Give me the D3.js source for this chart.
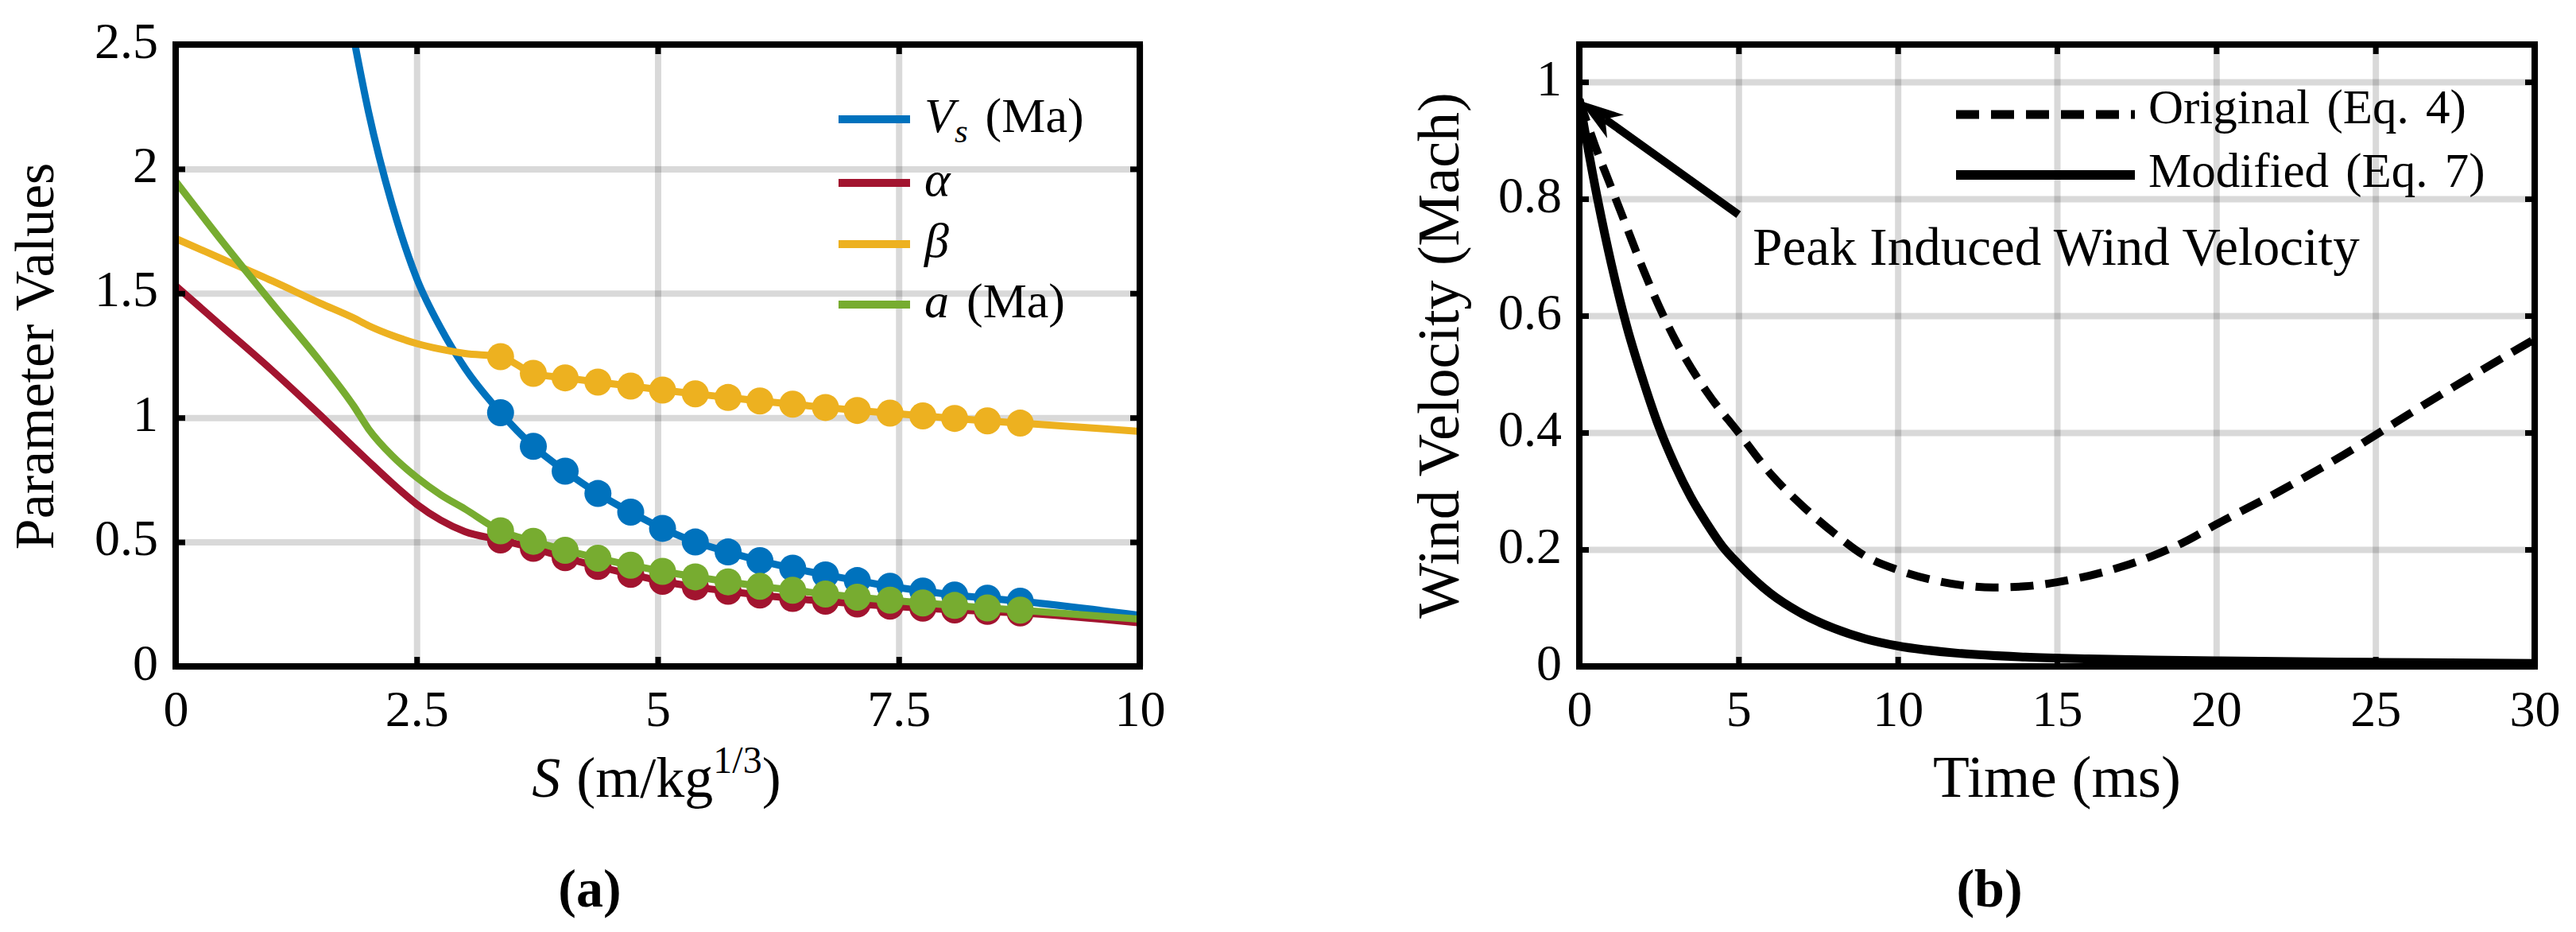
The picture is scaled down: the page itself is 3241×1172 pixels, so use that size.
<!DOCTYPE html>
<html>
<head>
<meta charset="utf-8">
<script src="https://cdn.jsdelivr.net/npm/d3@7"></script>
<style>
body { margin: 0; background: #fff; }
svg text { font-family: "Liberation Serif", "DejaVu Serif", serif; fill: #000; }
</style>
</head>
<body>
<svg id="svg" width="3241" height="1172"></svg>
<script>
// ---- (a) parameter values vs scaled distance S ----
const sHead = [0, 0.5, 1, 1.5, 1.85, 2, 2.25, 2.5, 2.75, 3];
const sMarkers = [3.37, 3.71, 4.04, 4.38, 4.72, 5.05, 5.39, 5.73, 6.06, 6.40, 6.74, 7.07, 7.41, 7.75, 8.08, 8.42, 8.76];
const sTail = [10];

const vsHead = [null, null, null, null, 2.52, 2.23, 1.85, 1.56, 1.36, 1.20];
const vsMarkers = [1.02, 0.885, 0.785, 0.695, 0.62, 0.555, 0.50, 0.46, 0.425, 0.395, 0.368, 0.345, 0.322, 0.303, 0.287, 0.274, 0.262];
const vsTail = [0.205];

const alphaHead = [1.53, 1.36, 1.19, 1.01, 0.88, 0.825, 0.735, 0.652, 0.588, 0.542];
const alphaMarkers = [0.508, 0.475, 0.437, 0.402, 0.37, 0.342, 0.32, 0.302, 0.287, 0.273, 0.262, 0.251, 0.242, 0.234, 0.227, 0.221, 0.215];
const alphaTail = [0.175];

const betaHead = [1.72, 1.635, 1.55, 1.46, 1.40, 1.37, 1.33, 1.298, 1.275, 1.258];
const betaMarkers = [1.245, 1.178, 1.160, 1.143, 1.127, 1.111, 1.096, 1.081, 1.067, 1.054, 1.041, 1.029, 1.018, 1.007, 0.997, 0.987, 0.978];
const betaTail = [0.945];

const aHead = [1.95, 1.70, 1.46, 1.225, 1.045, 0.955, 0.845, 0.76, 0.69, 0.633];
const aMarkers = [0.545, 0.503, 0.467, 0.435, 0.407, 0.382, 0.36, 0.34, 0.322, 0.306, 0.291, 0.278, 0.266, 0.255, 0.245, 0.235, 0.226];
const aTail = [0.19];

const colorsA = ["#0072BD", "#A2142F", "#EDB120", "#77AC30"];
const xTicksA = [0, 2.5, 5, 7.5, 10];
const xLabelsA = ["0", "2.5", "5", "7.5", "10"];
const yTicksA = [0, 0.5, 1, 1.5, 2, 2.5];
const yLabelsA = ["0", "0.5", "1", "1.5", "2", "2.5"];

// ---- (b) wind velocity vs time ----
const tOrig = [0, 0.5, 1, 1.5, 2, 3, 4, 5, 6, 7, 8, 9, 10, 11, 12, 13, 14, 15, 16, 17, 18, 19, 20, 22, 24, 26, 28, 30];
const vOrig = [0.97, 0.89, 0.82, 0.75, 0.68, 0.56, 0.47, 0.40, 0.33, 0.275, 0.228, 0.188, 0.165, 0.149, 0.139, 0.135, 0.137, 0.144, 0.155, 0.170, 0.189, 0.213, 0.243, 0.30, 0.362, 0.43, 0.496, 0.56];
const tMod = [0, 0.5, 1, 1.5, 2, 2.5, 3, 3.5, 4, 4.5, 5, 6, 7, 8, 9, 10, 12, 14, 16, 18, 20, 25, 30];
const vMod = [0.97, 0.82, 0.69, 0.58, 0.49, 0.41, 0.345, 0.29, 0.245, 0.205, 0.175, 0.125, 0.09, 0.065, 0.047, 0.035, 0.022, 0.016, 0.013, 0.011, 0.0095, 0.007, 0.005];
const xTicksB = [0, 5, 10, 15, 20, 25, 30];
const xLabelsB = ["0", "5", "10", "15", "20", "25", "30"];
const yTicksB = [0, 0.2, 0.4, 0.6, 0.8, 1];
const yLabelsB = ["0", "0.2", "0.4", "0.6", "0.8", "1"];
const arrowFrom = [5.0, 0.773], arrowTo = [0, 0.968];
const annotAt = [5.45, 0.687];

const svg = d3.select("#svg");
const FONT = '"Liberation Serif", "DejaVu Serif", serif';

// light grid behind the data
function frame(g, x, y, xTicks, yTicks) {
    const [xl, xr] = x.range(), [yb, yt] = y.range();
    const h = yb - yt, w = xr - xl;

    g.append("g").attr("transform", `translate(0,${yb})`)
        .call(d3.axisBottom(x).tickValues(xTicks).tickSize(-h).tickFormat(""))
        .call(a => a.select(".domain").remove())
        .selectAll("line").attr("stroke", "#000").attr("stroke-opacity", 0.15).attr("stroke-width", 8);
    g.append("g").attr("transform", `translate(${xl},0)`)
        .call(d3.axisLeft(y).tickValues(yTicks).tickSize(-w).tickFormat(""))
        .call(a => a.select(".domain").remove())
        .selectAll("line").attr("stroke", "#000").attr("stroke-opacity", 0.15).attr("stroke-width", 8);
}

// inward ticks on all four sides, tick labels and the box
function box(g, x, y, xTicks, xLabels, yTicks, yLabels) {
    const [xl, xr] = x.range(), [yb, yt] = y.range();
    const style = a => {
        a.select(".domain").remove();
        a.attr("font-size", 64).attr("font-family", FONT);
        a.selectAll("line").attr("stroke", "#000").attr("stroke-width", 7);
        a.selectAll("text").attr("fill", "#000");
    };
    g.append("g").attr("transform", `translate(0,${yb})`)
        .call(d3.axisBottom(x).tickValues(xTicks).tickFormat((d, i) => xLabels[i]).tickSizeInner(-12).tickSizeOuter(0).tickPadding(30))
        .call(style);
    g.append("g").attr("transform", `translate(0,${yt})`)
        .call(d3.axisTop(x).tickValues(xTicks).tickFormat("").tickSizeInner(-12).tickSizeOuter(0))
        .call(style);
    g.append("g").attr("transform", `translate(${xl},0)`)
        .call(d3.axisLeft(y).tickValues(yTicks).tickFormat((d, i) => yLabels[i]).tickSizeInner(-12).tickSizeOuter(0).tickPadding(22))
        .call(style)
        .selectAll("text").attr("dy", "0.25em");
    g.append("g").attr("transform", `translate(${xr},0)`)
        .call(d3.axisRight(y).tickValues(yTicks).tickFormat("").tickSizeInner(-12).tickSizeOuter(0))
        .call(style);
    g.append("rect")
        .attr("x", xl).attr("y", yt).attr("width", xr - xl).attr("height", yb - yt)
        .attr("fill", "none").attr("stroke", "#000").attr("stroke-width", 8);
}

function clip(id, x, y) {
    svg.append("clipPath").attr("id", id).append("rect")
        .attr("x", x.range()[0]).attr("y", y.range()[1])
        .attr("width", x.range()[1] - x.range()[0]).attr("height", y.range()[0] - y.range()[1]);
}

// ================= panel (a) =================
const xA = d3.scaleLinear().domain([0, 10]).range([221, 1434]);
const yA = d3.scaleLinear().domain([0, 2.5]).range([838, 56]);
const gA = svg.append("g");
frame(gA, xA, yA, xTicksA, yTicksA);
clip("clipA", xA, yA);

const seriesA = [
    { head: vsHead, pts: vsMarkers, tail: vsTail },
    { head: alphaHead, pts: alphaMarkers, tail: alphaTail },
    { head: betaHead, pts: betaMarkers, tail: betaTail },
    { head: aHead, pts: aMarkers, tail: aTail }
];
const sCurve = sHead.concat(sMarkers, sTail);
const lineA = d3.line()
    .defined(d => d[1] != null)
    .x(d => xA(d[0])).y(d => yA(d[1]))
    .curve(d3.curveMonotoneX);

const plotA = gA.append("g").attr("clip-path", "url(#clipA)");
seriesA.forEach((s, k) => {
    const vals = s.head.concat(s.pts, s.tail);
    plotA.append("path")
        .datum(sCurve.map((v, i) => [v, vals[i]]))
        .attr("fill", "none")
        .attr("stroke", colorsA[k])
        .attr("stroke-width", 9)
        .attr("d", lineA);
    plotA.append("g").selectAll("circle")
        .data(sMarkers.map((v, i) => [v, s.pts[i]]))
        .join("circle")
        .attr("cx", d => xA(d[0]))
        .attr("cy", d => yA(d[1]))
        .attr("r", 17)
        .attr("fill", colorsA[k]);
});
box(gA, xA, yA, xTicksA, xLabelsA, yTicksA, yLabelsA);

// legend (a)
const legRowsA = [150, 230, 307, 383];
const legA = gA.append("g").attr("font-size", 62);
legRowsA.forEach((ry, k) => {
    legA.append("line").attr("x1", 1055).attr("x2", 1145).attr("y1", ry).attr("y2", ry)
        .attr("stroke", colorsA[k]).attr("stroke-width", 10);
});
let t = legA.append("text").attr("x", 1163).attr("y", legRowsA[0] + 16);
t.append("tspan").attr("font-style", "italic").text("V");
t.append("tspan").attr("font-style", "italic").attr("font-size", 43).attr("dy", 13).text("s");
t.append("tspan").attr("dy", -13).attr("dx", 22).text("(Ma)");
legA.append("text").attr("x", 1163).attr("y", legRowsA[1] + 16).attr("font-style", "italic").text("α");
legA.append("text").attr("x", 1163).attr("y", legRowsA[2] + 16).attr("font-style", "italic").text("β");
t = legA.append("text").attr("x", 1163).attr("y", legRowsA[3] + 16);
t.append("tspan").attr("font-style", "italic").text("a");
t.append("tspan").attr("dx", 22).text("(Ma)");

// axis labels (a)
t = svg.append("text").attr("x", 826).attr("y", 1002).attr("text-anchor", "middle").attr("font-size", 72);
t.append("tspan").attr("font-style", "italic").text("S");
t.append("tspan").attr("dx", 20).text("(m/kg");
t.append("tspan").attr("font-size", 48).attr("dy", -30).text("1/3");
t.append("tspan").attr("dy", 30).text(")");
svg.append("text")
    .attr("transform", "translate(67,448) rotate(-90)")
    .attr("text-anchor", "middle").attr("font-size", 70)
    .text("Parameter Values");
svg.append("text").attr("x", 742).attr("y", 1140).attr("text-anchor", "middle")
    .attr("font-size", 68).attr("font-weight", "bold").text("(a)");

// ================= panel (b) =================
const xB = d3.scaleLinear().domain([0, 30]).range([1987, 3189]);
const yB = d3.scaleLinear().domain([0, 1.064]).range([838, 56]);
const gB = svg.append("g");
frame(gB, xB, yB, xTicksB, yTicksB);
clip("clipB", xB, yB);

const lineB = d3.line().x(d => xB(d[0])).y(d => yB(d[1])).curve(d3.curveMonotoneX);
const plotB = gB.append("g").attr("clip-path", "url(#clipB)");
plotB.append("path")
    .datum(tOrig.map((v, i) => [v, vOrig[i]]))
    .attr("fill", "none").attr("stroke", "#000").attr("stroke-width", 10)
    .attr("stroke-dasharray", "29,15")
    .attr("d", lineB);
plotB.append("path")
    .datum(tMod.map((v, i) => [v, vMod[i]]))
    .attr("fill", "none").attr("stroke", "#000").attr("stroke-width", 11)
    .attr("d", lineB);
box(gB, xB, yB, xTicksB, xLabelsB, yTicksB, yLabelsB);

// legend (b)
const legB = gB.append("g").attr("font-size", 61).attr("word-spacing", 6);
legB.append("line").attr("x1", 2461).attr("x2", 2686).attr("y1", 144).attr("y2", 144)
    .attr("stroke", "#000").attr("stroke-width", 11).attr("stroke-dasharray", "29,15");
legB.append("line").attr("x1", 2461).attr("x2", 2686).attr("y1", 220).attr("y2", 220)
    .attr("stroke", "#000").attr("stroke-width", 12);
legB.append("text").attr("x", 2703).attr("y", 155).text("Original (Eq. 4)");
legB.append("text").attr("x", 2703).attr("y", 235).text("Modified (Eq. 7)");

// annotation arrow
const p0 = [xB(arrowFrom[0]), yB(arrowFrom[1])], p1 = [xB(arrowTo[0]), yB(arrowTo[1])];
const len = Math.hypot(p0[0] - p1[0], p0[1] - p1[1]);
const ux = (p0[0] - p1[0]) / len, uy = (p0[1] - p1[1]) / len;
const headL = 56, headW = 18, notch = 40;
gB.append("line")
    .attr("x1", p0[0]).attr("y1", p0[1])
    .attr("x2", p1[0] + ux * notch).attr("y2", p1[1] + uy * notch)
    .attr("stroke", "#000").attr("stroke-width", 10);
gB.append("path")
    .attr("d", d3.line()([
        p1,
        [p1[0] + ux * headL - uy * headW, p1[1] + uy * headL + ux * headW],
        [p1[0] + ux * notch, p1[1] + uy * notch],
        [p1[0] + ux * headL + uy * headW, p1[1] + uy * headL - ux * headW]
    ]) + "Z")
    .attr("fill", "#000");
gB.append("text").attr("x", xB(annotAt[0])).attr("y", yB(annotAt[1]))
    .attr("font-size", 67).text("Peak Induced Wind Velocity");

// axis labels (b)
svg.append("text").attr("x", 2588).attr("y", 1002).attr("text-anchor", "middle")
    .attr("font-size", 75).text("Time (ms)");
svg.append("text")
    .attr("transform", "translate(1835,447) rotate(-90)")
    .attr("text-anchor", "middle").attr("font-size", 74)
    .text("Wind Velocity (Mach)");
svg.append("text").attr("x", 2503).attr("y", 1140).attr("text-anchor", "middle")
    .attr("font-size", 68).attr("font-weight", "bold").text("(b)");
</script>
</body>
</html>
